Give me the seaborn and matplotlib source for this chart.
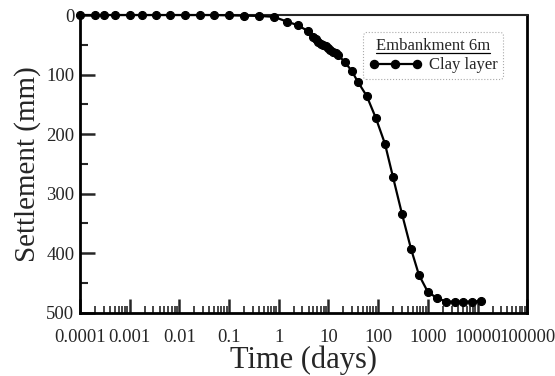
import numpy as np
import pandas as pd
import matplotlib
matplotlib.use("Agg")
import matplotlib.pyplot as plt
import seaborn as sns
from matplotlib.ticker import LogLocator, MultipleLocator, NullFormatter
from matplotlib.lines import Line2D

time_days = [0.0001, 0.0002, 0.0003, 0.0005, 0.001, 0.0018, 0.0034, 0.0065, 0.013,
             0.026, 0.05, 0.1, 0.2, 0.4, 0.8, 1.46, 2.4, 3.9, 4.9, 5.5, 6.2, 7.0, 7.8,
             8.8, 9.8, 11, 12.3, 14, 15.5, 21.4, 29.5, 39, 59, 90, 137, 199, 302, 460,
             660, 1000, 1520, 2300, 3530, 5130, 7800, 11700]
settlement_mm = [0, 0, 0, 0, 0, 0, 0, 0, 0,
                 0, 0, 0.5, 1, 1.5, 3, 11, 17, 27, 37, 41, 45, 48, 50,
                 52, 55, 58, 62, 64, 67, 79, 94, 112, 136, 173, 216, 272, 334, 393,
                 436, 465, 475, 481, 481, 481, 481, 480]
xtick_values = [0.0001, 0.001, 0.01, 0.1, 1, 10, 100, 1000, 10000, 100000]
xtick_labels = ["0.0001", "0.001", "0.01", "0.1", "1", "10", "100", "1000", "10000", "100000"]
ytick_values = [0, 100, 200, 300, 400, 500]
legend_title = "Embankment 6m"
series_name = "Clay layer"

df = pd.DataFrame({"Time": time_days, "Settlement": settlement_mm, "Series": series_name})

sns.set_style("ticks")
plt.rcParams["font.family"] = ["Liberation Serif", "DejaVu Serif"]

fig = plt.figure(figsize=(5.55, 3.76), dpi=100)
ax = fig.add_axes([0.144, 0.168, 0.806, 0.792])

sns.lineplot(data=df, x="Time", y="Settlement", hue="Series", palette=["black"],
             marker="o", markersize=5.8, markeredgecolor="black", linewidth=1.6,
             ax=ax, clip_on=False, zorder=5, legend=False)

ax.set_xscale("log")
ax.set_xlim(1e-4, 1e5)
ax.set_ylim(500, 0)
ax.set_xticks(xtick_values)
ax.set_xticklabels(xtick_labels)
ax.xaxis.set_minor_locator(LogLocator(base=10, subs=np.arange(2, 10), numticks=100))
ax.xaxis.set_minor_formatter(NullFormatter())
ax.set_yticks(ytick_values)
ax.yaxis.set_minor_locator(MultipleLocator(50))

ax.tick_params(axis="both", which="major", direction="in", width=1.8, labelsize=13.5)
ax.tick_params(axis="y", which="major", length=11, pad=4)
ax.tick_params(axis="x", which="major", length=10, pad=12)
ax.tick_params(axis="y", which="minor", direction="in", length=6, width=1.5)
ax.tick_params(axis="x", which="minor", direction="in", length=5, width=1.2)

for side in ["left", "bottom", "right"]:
    ax.spines[side].set_linewidth(2.0)
    ax.spines[side].set_color("black")
ax.spines["top"].set_linewidth(1.5)

ax.set_xlabel("Time (days)", fontsize=22, labelpad=-1)
ax.set_ylabel("Settlement (mm)", fontsize=21, labelpad=4)

handle = Line2D([], [], color="black", marker="o", markersize=5.8, linewidth=1.6)
leg = ax.legend([handle], [series_name], title=legend_title, loc="upper right",
                bbox_to_anchor=(0.965, 0.97), numpoints=3, handlelength=3.2,
                fontsize=12, title_fontsize=12, fancybox=True, framealpha=1,
                borderpad=0.35, handletextpad=0.4, labelspacing=0.2)
frame = leg.get_frame()
frame.set_edgecolor("#aaaaaa")
frame.set_linestyle(":")
frame.set_linewidth(0.8)

fig.canvas.draw()
bb = leg.get_title().get_window_extent()
inv = fig.transFigure.inverted()
(x0, y0), (x1, _) = inv.transform([(bb.x0, bb.y0 + 1), (bb.x1, bb.y0 + 1)])
fig.add_artist(Line2D([x0, x1], [y0, y0], color="black", linewidth=0.9, transform=fig.transFigure))

fig.savefig("out.png", dpi=100)
